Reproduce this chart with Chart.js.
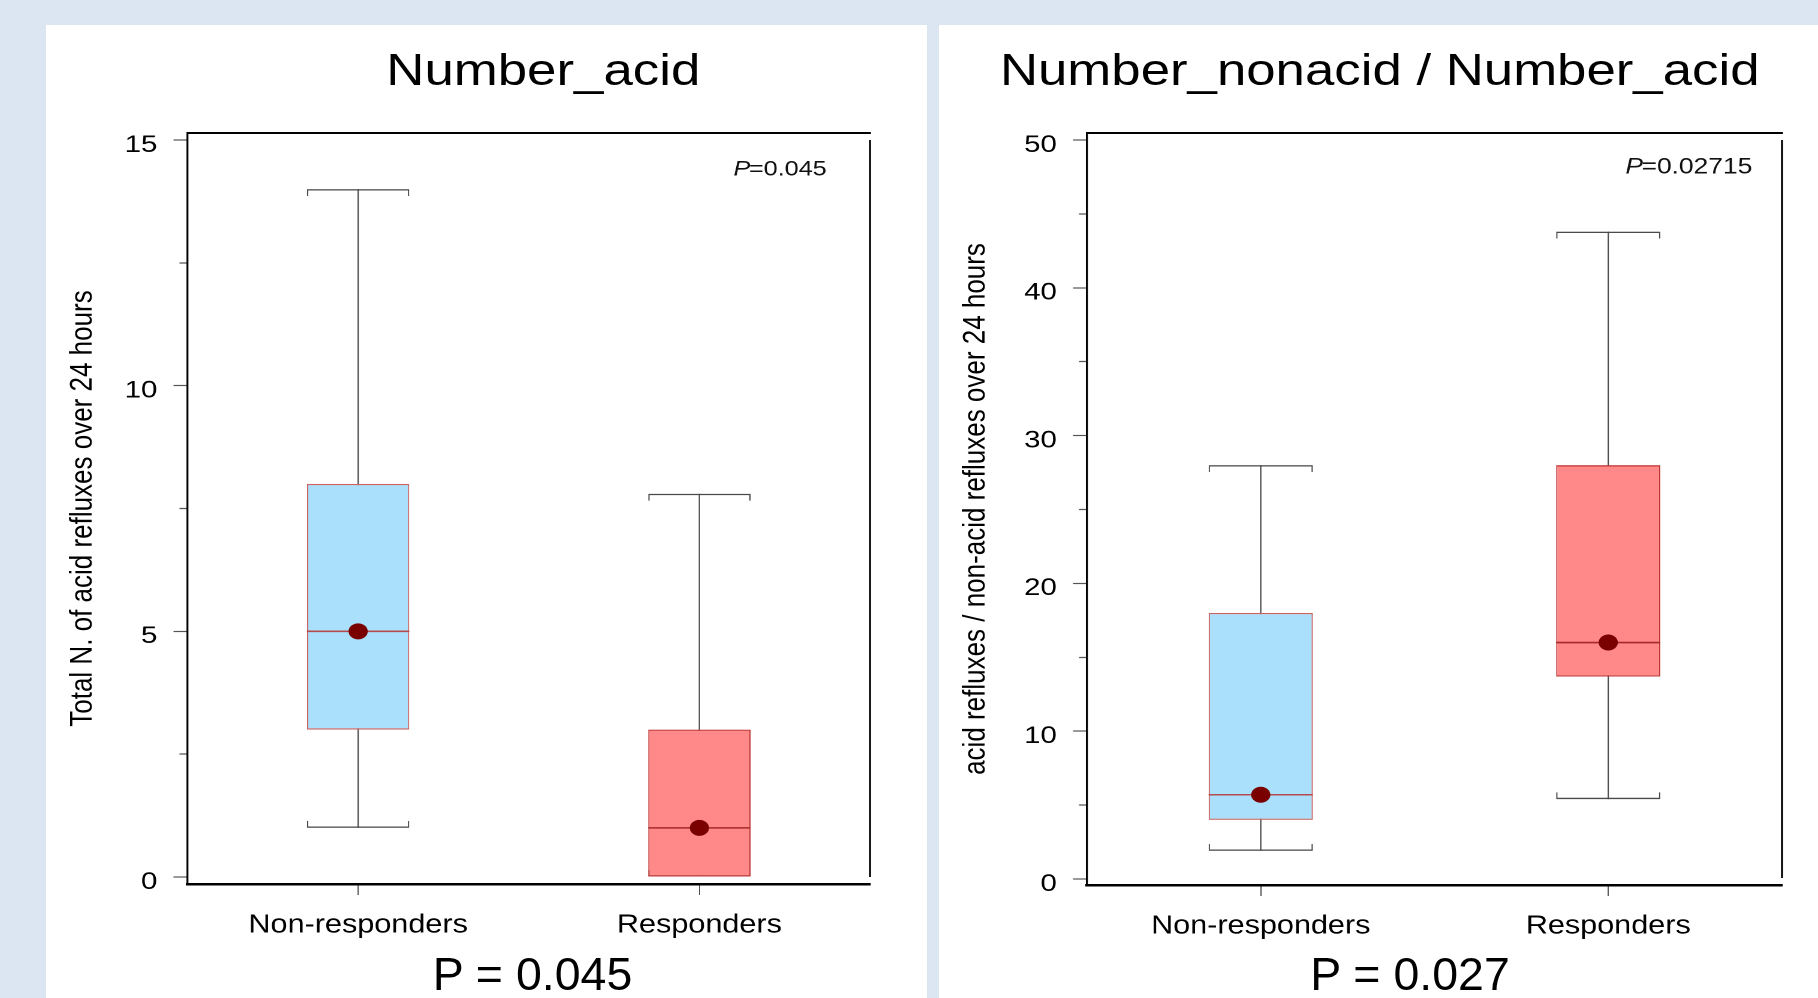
<!DOCTYPE html>
<html>
<head>
<meta charset="utf-8">
<script src="https://cdn.jsdelivr.net/npm/chart.js@4.4.1/dist/chart.umd.min.js"></script>
<style>
html,body{margin:0;padding:0;}
body{width:1818px;height:998px;overflow:hidden;background:#dce6f2;position:relative;font-family:"Liberation Sans",Arial,Helvetica,sans-serif;}
.panel{position:absolute;top:25px;height:973px;background:#fff;overflow:hidden;}
.stretch{position:absolute;left:0;top:0;height:973px;transform-origin:0 0;}
.stretch canvas{display:block;}
.title{position:absolute;top:22.75px;font-size:44px;line-height:44px;white-space:nowrap;transform:translateX(-50%);color:#000;}
.pnote{position:absolute;top:950.6px;font-size:46.5px;line-height:46.5px;white-space:nowrap;transform:translateX(-50%);color:#000;z-index:5;}
</style>
</head>
<body>
<div class="panel" id="p1" style="left:46px;width:881px;"><div class="stretch" id="s1"><div class="title" id="t1"></div><canvas id="c1"></canvas></div></div>
<div class="panel" id="p2" style="left:939px;width:879px;"><div class="stretch" id="s2"><div class="title" id="t2"></div><canvas id="c2"></canvas></div></div>
<div class="pnote" id="b1" style="left:532.5px;"></div>
<div class="pnote" id="b2" style="left:1410px;"></div>
<script>
// ---------- data ----------
const categories = ['Non-responders', 'Responders'];

const acidTitle = 'Number_acid';
const acidAxisLabel = 'Total N. of acid refluxes over 24 hours';
const acidMin = [1, 0];
const acidQ1 = [3, 0];
const acidMedian = [5, 1];
const acidQ3 = [8, 3];
const acidMax = [14, 7.8];
const acidMean = [5, 1];
const acidTicks = [0, 5, 10, 15];
const acidPNote = '=0.045';
const acidBottomP = 'P = 0.045';

const ratioTitle = 'Number_nonacid / Number_acid';
const ratioAxisLabel = 'acid refluxes / non-acid refluxes over 24 hours';
const ratioMin = [1.9, 5.4];
const ratioQ1 = [4, 13.7];
const ratioMedian = [5.7, 16];
const ratioQ3 = [18, 28];
const ratioMax = [28, 43.8];
const ratioMean = [5.7, 16];
const ratioTicks = [0, 10, 20, 30, 40, 50];
const ratioPNote = '=0.02715';
const ratioBottomP = 'P = 0.027';

// ---------- styles ----------
const boxFill = ['#aae0fc', '#ff8888'];
const boxEdge = ['#c86464', '#c03434'];
const medianColor = ['#b44c4c', '#a82828'];
const whiskerColor = '#4a4a4a';
const meanColor = '#7a0000';
const FONT = '"Liberation Sans", Arial, Helvetica, sans-serif';

Chart.defaults.font.family = FONT;
Chart.defaults.color = '#000';

const framePlugin = {
  id: 'frame',
  afterDraw(chart, args, o) {
    const ctx = chart.ctx, a = chart.chartArea;
    ctx.save();
    ctx.strokeStyle = '#000';
    ctx.lineWidth = 2;
    ctx.beginPath();
    ctx.moveTo(a.left, a.top);
    ctx.lineTo(a.right + 0.8, a.top);
    ctx.stroke();
    ctx.lineWidth = o.vWidth;
    ctx.beginPath();
    ctx.moveTo(a.right, a.top + o.gap);
    ctx.lineTo(a.right, a.bottom - o.gap);
    ctx.stroke();
    // p-value annotation
    ctx.fillStyle = '#111';
    ctx.textBaseline = 'alphabetic';
    ctx.textAlign = 'left';
    ctx.font = o.fontSize + 'px ' + FONT;
    const wRest = ctx.measureText(o.text).width;
    const xEnd = a.right - o.inset;
    const xRest = xEnd - wRest;
    const y = a.top + o.baseline;
    ctx.fillText(o.text, xRest, y);
    ctx.font = 'italic ' + o.fontSize + 'px ' + FONT;
    const wP = ctx.measureText('P').width;
    ctx.fillText('P', xRest - wP * 0.92, y);
    ctx.restore();
  }
};

function makeChart(c) {
  const wrap = document.getElementById(c.wrapId);
  const Wpre = Math.round(c.panelW / 1.2);
  const S = c.panelW / Wpre;
  wrap.style.width = Wpre + 'px';
  wrap.style.transform = 'scaleX(' + S + ')';
  const t = document.getElementById(c.titleId);
  t.textContent = c.title;
  t.style.left = (c.titleCenter / S) + 'px';

  const plotH = c.plotBottom - c.plotTop;
  const tMin = c.ticks[0], tMax = c.ticks[c.ticks.length - 1];
  const upp = (tMax - tMin) / (plotH - c.padTop - c.padBottom);
  const yMin = tMin - c.padBottom * upp;
  const yMax = tMax + c.padTop * upp;
  const labelStep = c.ticks[1] - c.ticks[0];
  const minorStep = labelStep / 2;
  const capDepth = 7 * upp;
  const medHalf = 0.8 * upp;
  const idx = categories.map((_, i) => i);
  const isLabel = v => Math.abs(v / labelStep - Math.round(v / labelStep)) < 1e-6;

  const yTickLen = 14 / S;
  const yBorderW = 2 / S;
  const minorOff = (yTickLen - yBorderW / 2) - 7 / S;

  return new Chart(document.getElementById(c.canvasId), {
    type: 'bar',
    data: {
      labels: categories,
      datasets: [
        { type: 'line', label: 'Mean', data: c.mean, showLine: false, pointRadius: 8, pointHoverRadius: 8,
          pointBackgroundColor: meanColor, pointBorderWidth: 0, order: 0 },
        { type: 'bar', label: 'Median', data: idx.map(i => [c.median[i] - medHalf, c.median[i] + medHalf]),
          backgroundColor: medianColor, borderWidth: 0, grouped: false, barPercentage: 0.3, categoryPercentage: 1,
          inflateAmount: 0, order: 1 },
        { type: 'bar', label: 'Box', data: idx.map(i => [c.q1[i], c.q3[i]]),
          backgroundColor: boxFill, borderColor: boxEdge,
          borderWidth: { top: 1.3, bottom: 1.3, left: 1.1, right: 1.1 }, borderSkipped: false,
          grouped: false, barPercentage: 0.3, categoryPercentage: 1, inflateAmount: 0, order: 2 },
        { type: 'bar', label: 'Upper cap', data: idx.map(i => [c.max[i] - capDepth, c.max[i]]),
          backgroundColor: 'rgba(0,0,0,0)', borderColor: whiskerColor,
          borderWidth: { top: 1.4, bottom: 0, left: 1.1, right: 1.1 }, borderSkipped: 'bottom',
          grouped: false, barPercentage: 0.3, categoryPercentage: 1, inflateAmount: 0, order: 3 },
        { type: 'bar', label: 'Lower cap', data: idx.map(i => [c.min[i], c.min[i] + capDepth]),
          backgroundColor: 'rgba(0,0,0,0)', borderColor: whiskerColor,
          borderWidth: { top: 0, bottom: 1.4, left: 1.1, right: 1.1 }, borderSkipped: 'top',
          grouped: false, barPercentage: 0.3, categoryPercentage: 1, inflateAmount: 0, order: 3 },
        { type: 'bar', label: 'Whisker', data: idx.map(i => [c.min[i], c.max[i]]),
          backgroundColor: whiskerColor, borderWidth: 0, barThickness: 1.1, grouped: false,
          inflateAmount: 0, order: 4 }
      ]
    },
    options: {
      responsive: true,
      maintainAspectRatio: false,
      animation: false,
      devicePixelRatio: 2,
      events: [],
      layout: { padding: { top: c.plotTop - 25, right: (c.panelW - (c.plotRight - c.panelLeft)) / S, bottom: 0, left: 0 } },
      plugins: {
        legend: { display: false },
        tooltip: { enabled: false },
        frame: { vWidth: 2 / S, gap: 7, text: c.pNote, fontSize: c.noteSize, inset: c.noteInset / S, baseline: c.noteBaseline }
      },
      scales: {
        x: {
          type: 'category', offset: true,
          afterFit: s => { s.height = c.xAxisH; },
          grid: { display: true, drawOnChartArea: false, drawTicks: true, offset: false, tickLength: 11,
                  tickColor: '#555', tickWidth: 1.2 / S },
          border: { display: true, color: '#000', width: 2.5 },
          ticks: { color: '#000', font: { size: 25.5 }, padding: 15, maxRotation: 0, autoSkip: false }
        },
        y: {
          type: 'linear', min: yMin, max: yMax,
          afterFit: s => { s.width = (c.plotLeft - c.panelLeft) / S; },
          grid: { display: true, drawOnChartArea: false, drawTicks: true, tickLength: yTickLen,
                  tickColor: '#555', tickWidth: 1.2,
                  tickBorderDash: ctx => (ctx.tick && !isLabel(ctx.tick.value)) ? [0, minorOff, 40, 0] : [] },
          border: { display: true, color: '#000', width: yBorderW },
          ticks: { stepSize: minorStep, includeBounds: false, autoSkip: false, color: '#000',
                   font: { size: 24.5 }, padding: 13.5, labelOffset: 5,
                   callback: v => isLabel(v) ? String(Math.round(v)) : '' },
          title: { display: true, text: c.axisLabel, color: '#000', font: { size: 26 }, padding: 15 }
        }
      }
    },
    plugins: [framePlugin]
  });
}

makeChart({
  wrapId: 's1', canvasId: 'c1', titleId: 't1', title: acidTitle, axisLabel: acidAxisLabel,
  panelLeft: 46, panelW: 881, titleCenter: 497.3,
  plotLeft: 187.5, plotRight: 870, plotTop: 133, plotBottom: 884, padTop: 7, padBottom: 7, xAxisH: 114,
  min: acidMin, q1: acidQ1, median: acidMedian, q3: acidQ3, max: acidMax, mean: acidMean, ticks: acidTicks,
  pNote: acidPNote, noteSize: 21, noteInset: 43.3, noteBaseline: 42.7
});
makeChart({
  wrapId: 's2', canvasId: 'c2', titleId: 't2', title: ratioTitle, axisLabel: ratioAxisLabel,
  panelLeft: 939, panelW: 879, titleCenter: 440.7,
  plotLeft: 1087, plotRight: 1782, plotTop: 133, plotBottom: 885, padTop: 7, padBottom: 6, xAxisH: 113,
  min: ratioMin, q1: ratioQ1, median: ratioMedian, q3: ratioQ3, max: ratioMax, mean: ratioMean, ticks: ratioTicks,
  pNote: ratioPNote, noteSize: 22, noteInset: 29.7, noteBaseline: 40.3
});
document.getElementById('b1').textContent = acidBottomP;
document.getElementById('b2').textContent = ratioBottomP;
</script>
</body>
</html>
